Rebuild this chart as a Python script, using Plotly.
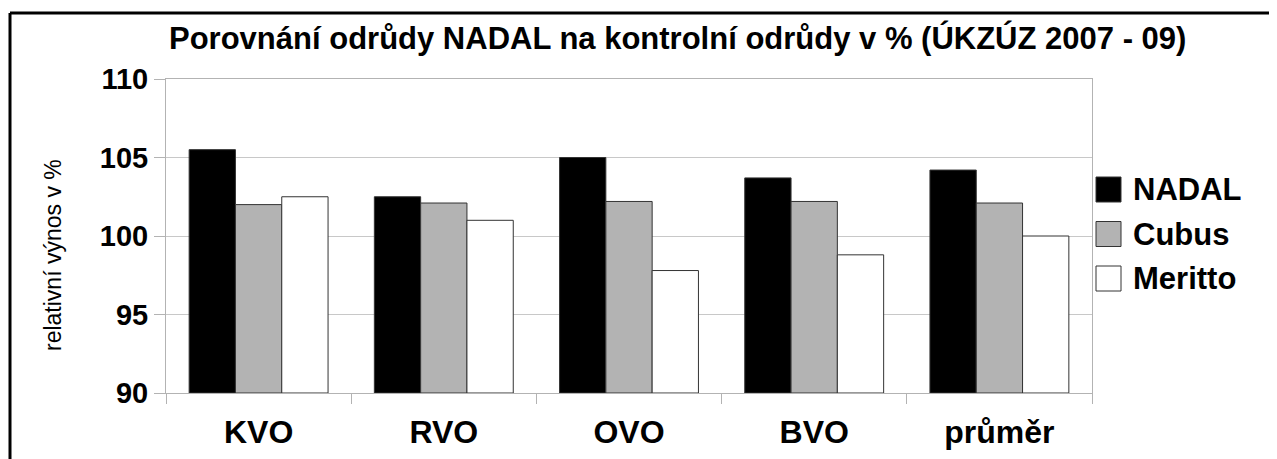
import plotly.graph_objects as go

categories = ["KVO", "RVO", "OVO", "BVO", "průměr"]
series_names = ["NADAL", "Cubus", "Meritto"]
nadal = [105.5, 102.5, 105.0, 103.7, 104.2]
cubus = [102.0, 102.1, 102.2, 102.2, 102.1]
meritto = [102.5, 101.0, 97.8, 98.8, 100.0]
series_values = [nadal, cubus, meritto]
series_colors = ["#000000", "#b3b3b3", "#ffffff"]
y_ticks = [90, 95, 100, 105, 110]

OFF = 8  # default page body margin
W, H = 1277 - OFF, 459 - OFF
# plot area in reference (window) pixels
L, R, T, B = 166, 1092, 79, 393
FONT = "Liberation Sans, Arial, sans-serif"

def px_x(p):
    return (p - L) / (R - L)

def px_y(p):
    return (B - p) / (B - T)

fig = go.Figure()
for name, vals, col in zip(series_names, series_values, series_colors):
    fig.add_trace(go.Bar(
        x=categories, y=[v - 90 for v in vals], base=90, name=name,
        marker=dict(color=col, line=dict(color="#333333", width=1)),
        showlegend=False,
    ))

shapes = []
annotations = []
# outer frame (top & left)
shapes.append(dict(type="line", xref="paper", yref="paper",
                   x0=px_x(10), x1=px_x(1290), y0=px_y(13), y1=px_y(13),
                   line=dict(color="black", width=3)))
shapes.append(dict(type="line", xref="paper", yref="paper",
                   x0=px_x(10), x1=px_x(10), y0=px_y(13), y1=px_y(470),
                   line=dict(color="black", width=3)))
# manual legend
for i, (name, col) in enumerate(zip(series_names, series_colors)):
    cy = 189.5 + i * 44.5
    shapes.append(dict(type="rect", xref="paper", yref="paper",
                       x0=px_x(1096), x1=px_x(1121), y0=px_y(cy - 12.5), y1=px_y(cy + 12.5),
                       fillcolor=col, line=dict(color="#333333", width=1)))
    annotations.append(dict(text=name, xref="paper", yref="paper",
                            x=px_x(1131), y=px_y(cy), xanchor="left", yanchor="middle",
                            showarrow=False,
                            font=dict(family=FONT, size=31, color="black", weight="bold")))
# y-axis title
annotations.append(dict(text="relativní výnos v %", xref="paper", yref="paper",
                        x=px_x(53), y=px_y(255), textangle=-90, xanchor="center",
                        yanchor="middle", showarrow=False,
                        font=dict(family=FONT, size=23, color="black")))
# chart title
annotations.append(dict(text="Porovnání odrůdy NADAL na kontrolní odrůdy v % (ÚKZÚZ 2007 - 09)",
                        xref="paper", yref="paper", x=px_x(677), y=px_y(38),
                        xanchor="center", yanchor="middle", showarrow=False,
                        font=dict(family=FONT, size=31, color="black", weight="bold")))

fig.update_layout(
    width=W, height=H,
    margin=dict(l=L - OFF, r=W - (R - OFF), t=T - OFF, b=H - (B - OFF), pad=0,
                autoexpand=False),
    paper_bgcolor="white", plot_bgcolor="white",
    barmode="group", bargap=0.25, bargroupgap=0,
    xaxis=dict(type="category", tickson="boundaries", ticks="outside", ticklen=10,
               tickcolor="#b3b3b3", showgrid=False, showline=True, linecolor="#b3b3b3",
               mirror=True, ticklabelstandoff=11, automargin=False,
               tickfont=dict(family=FONT, size=32, color="black", weight="bold")),
    yaxis=dict(range=[90, 110], tickvals=y_ticks, ticks="outside", ticklen=11,
               tickcolor="#b3b3b3", showgrid=True, gridcolor="#c8c8c8",
               showline=True, linecolor="#b3b3b3", mirror=True, zeroline=False,
               automargin=False,
               tickfont=dict(family=FONT, size=29, color="black", weight="bold")),
    shapes=shapes, annotations=annotations,
)
fig.write_html("out.html")
